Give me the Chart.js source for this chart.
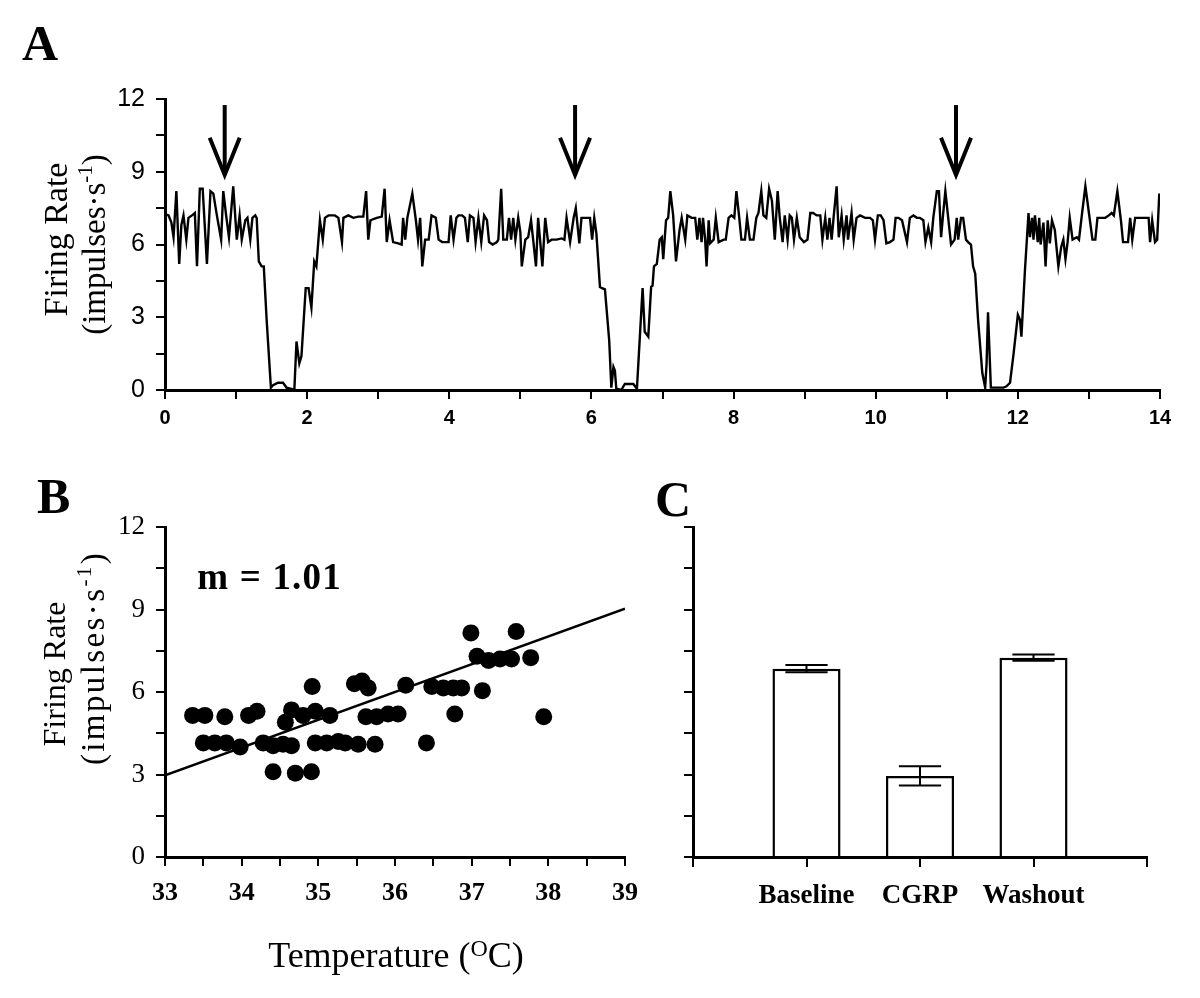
<!DOCTYPE html>
<html>
<head>
<meta charset="utf-8">
<title>Firing rate vs time, temperature and CGRP</title>
<script src="https://cdn.jsdelivr.net/npm/chart.js@4.4.1/dist/chart.umd.min.js"></script>
<style>
  html, body { margin: 0; padding: 0; background: #fff; }
  #page { position: relative; width: 1200px; height: 998px; overflow: hidden; background: #fff; }
  .panel-label { position: absolute; font: bold 50px "Liberation Serif", "Times New Roman", serif; line-height: 50px; color: #000; }
  canvas { position: absolute; display: block; }
</style>
</head>
<body>
<div id="page">
  <div class="panel-label" style="left:22px;top:18px">A</div>
  <div class="panel-label" style="left:37px;top:471px">B</div>
  <div class="panel-label" style="left:655px;top:474px">C</div>
  <canvas id="chartA" width="1200" height="390" style="left:0;top:60px"></canvas>
  <canvas id="chartB" width="660" height="538" style="left:0;top:460px"></canvas>
  <canvas id="chartC" width="560" height="538" style="left:640px;top:460px"></canvas>
</div>
<script>
    var SERIF = '"Liberation Serif", "Times New Roman", serif';
    var SANS = '"Liberation Sans", Arial, sans-serif';

    // panel A: firing rate trace (time in min, rate in impulses/s)
    var traceTime = [
        0.00, 0.05, 0.09, 0.12, 0.16, 0.20, 0.23, 0.26, 0.30, 0.33,
        0.38, 0.42, 0.45, 0.49, 0.53, 0.59, 0.64, 0.68, 0.73, 0.79,
        0.82, 0.86, 0.90, 0.96, 1.01, 1.05, 1.08, 1.13, 1.16, 1.20,
        1.23, 1.27, 1.29, 1.32, 1.36, 1.39, 1.43, 1.49, 1.52, 1.59,
        1.66, 1.71, 1.78, 1.82, 1.85, 1.89, 1.92, 1.98, 2.02, 2.06,
        2.10, 2.13, 2.18, 2.22, 2.25, 2.30, 2.35, 2.39, 2.44, 2.49,
        2.51, 2.58, 2.65, 2.72, 2.79, 2.83, 2.86, 2.89, 2.98, 3.05,
        3.09, 3.12, 3.16, 3.21, 3.28, 3.33, 3.35, 3.38, 3.41, 3.48,
        3.53, 3.56, 3.59, 3.62, 3.66, 3.71, 3.75, 3.81, 3.85, 3.90,
        3.96, 3.99, 4.02, 4.06, 4.10, 4.13, 4.18, 4.22, 4.26, 4.29,
        4.34, 4.37, 4.41, 4.45, 4.49, 4.53, 4.56, 4.61, 4.67, 4.69,
        4.73, 4.76, 4.81, 4.84, 4.87, 4.90, 4.93, 4.97, 5.00, 5.02,
        5.07, 5.11, 5.15, 5.18, 5.22, 5.25, 5.31, 5.35, 5.39, 5.44,
        5.51, 5.58, 5.62, 5.65, 5.70, 5.75, 5.78, 5.83, 5.86, 5.90,
        5.93, 5.98, 6.01, 6.04, 6.07, 6.12, 6.15, 6.19, 6.25, 6.28,
        6.31, 6.33, 6.35, 6.42, 6.47, 6.52, 6.59, 6.64, 6.72, 6.75,
        6.80, 6.84, 6.86, 6.88, 6.92, 6.96, 6.99, 7.01, 7.05, 7.08,
        7.11, 7.15, 7.19, 7.24, 7.27, 7.32, 7.35, 7.41, 7.46, 7.49,
        7.52, 7.55, 7.57, 7.60, 7.62, 7.65, 7.67, 7.72, 7.75, 7.79,
        7.86, 7.89, 7.93, 7.97, 8.01, 8.04, 8.08, 8.11, 8.16, 8.19,
        8.23, 8.28, 8.32, 8.35, 8.39, 8.42, 8.46, 8.50, 8.54, 8.58,
        8.62, 8.65, 8.69, 8.72, 8.76, 8.79, 8.82, 8.85, 8.89, 8.93,
        8.99, 9.04, 9.08, 9.12, 9.17, 9.22, 9.25, 9.29, 9.32, 9.35,
        9.38, 9.41, 9.45, 9.48, 9.52, 9.55, 9.59, 9.61, 9.66, 9.69,
        9.73, 9.78, 9.85, 9.92, 9.96, 9.99, 10.03, 10.07, 10.11, 10.15,
        10.20, 10.25, 10.28, 10.32, 10.37, 10.44, 10.48, 10.53, 10.58, 10.62,
        10.67, 10.70, 10.74, 10.78, 10.81, 10.86, 10.89, 10.92, 10.95, 10.98,
        11.02, 11.06, 11.11, 11.14, 11.16, 11.20, 11.23, 11.27, 11.30, 11.34,
        11.37, 11.40, 11.44, 11.50, 11.54, 11.56, 11.58, 11.62, 11.66, 11.73,
        11.80, 11.84, 11.89, 11.94, 12.00, 12.03, 12.05, 12.10, 12.15, 12.17,
        12.20, 12.22, 12.24, 12.28, 12.30, 12.32, 12.36, 12.39, 12.42, 12.45,
        12.48, 12.52, 12.57, 12.61, 12.64, 12.67, 12.70, 12.73, 12.77, 12.83,
        12.86, 12.90, 12.95, 13.00, 13.05, 13.09, 13.12, 13.18, 13.23, 13.28,
        13.32, 13.35, 13.40, 13.45, 13.48, 13.55, 13.58, 13.61, 13.65, 13.72,
        13.79, 13.84, 13.86, 13.89, 13.93, 13.96, 13.99
    ];
    var traceRate = [
        7.25, 7.2, 6.9, 6.3, 8.2, 5.2, 6.8, 7.2, 6.2, 7.1,
        7.2, 7.3, 5.1, 8.3, 8.3, 5.2, 8.2, 8.1, 7.2, 6.2,
        8.2, 7.2, 6.3, 8.4, 6.2, 7.2, 6.2, 7.0, 7.1, 6.2,
        7.1, 7.2, 7.1, 5.3, 5.1, 5.1, 2.9, 0.1, 0.2, 0.3,
        0.3, 0.1, 0.05, 0, 2.0, 1.1, 1.4, 4.2, 4.2, 3.4,
        5.3, 5.1, 7.0, 6.2, 7.1, 7.2, 7.2, 7.2, 7.1, 6.1,
        7.1, 7.2, 7.1, 7.15, 7.15, 8.2, 6.2, 7.0, 7.1, 7.15,
        8.3, 6.1, 7.0, 6.1, 6.05, 6.0, 7.1, 6.2, 7.1, 8.1,
        7.0, 6.2, 7.1, 5.1, 6.2, 6.2, 7.2, 7.1, 6.2, 6.1,
        6.1, 6.1, 7.2, 6.2, 7.1, 7.2, 7.2, 7.1, 6.1, 7.2,
        7.1, 6.1, 7.1, 6.1, 7.2, 7.0, 6.1, 6.0, 6.1, 6.2,
        8.3, 6.2, 6.2, 7.1, 6.2, 7.1, 6.2, 7.1, 6.5, 5.1,
        6.2, 6.3, 7.0, 6.2, 5.1, 7.1, 5.1, 7.1, 6.1, 6.2,
        6.2, 6.25, 6.2, 7.1, 6.1, 7.1, 7.5, 6.05, 7.1, 7.1,
        7.1, 7.1, 6.2, 7.1, 6.45, 4.25, 4.2, 4.15, 2.05, 0.1,
        0.95, 0.8, 0.05, 0, 0.25, 0.25, 0.25, 0.05, 4.2, 2.4,
        2.2, 4.25, 4.3, 5.1, 5.2, 6.2, 6.3, 5.4, 7.0, 7.1,
        8.2, 7.2, 5.3, 6.6, 7.1, 6.2, 7.2, 7.1, 7.1, 6.2,
        7.1, 6.1, 7.1, 6.2, 5.1, 7.0, 6.05, 6.2, 7.1, 6.1,
        6.2, 6.2, 7.1, 7.2, 7.1, 8.2, 7.1, 6.2, 6.2, 7.1,
        6.2, 6.2, 7.1, 7.3, 8.2, 7.2, 7.1, 8.3, 7.8, 6.2,
        8.2, 7.1, 6.1, 7.2, 6.2, 7.2, 7.1, 6.2, 7.1, 6.3,
        6.1, 6.2, 7.3, 7.3, 7.2, 7.2, 6.2, 7.1, 6.2, 7.1,
        6.2, 7.2, 8.4, 6.3, 7.2, 6.2, 7.2, 6.2, 7.3, 6.2,
        7.1, 7.2, 7.1, 7.1, 7.0, 6.2, 7.2, 7.2, 7.0, 6.05,
        6.1, 6.2, 7.1, 7.1, 7.0, 6.1, 7.1, 7.2, 7.1, 7.1,
        7.0, 6.1, 6.7, 6.1, 7.1, 8.2, 8.2, 6.3, 7.3, 8.2,
        7.1, 6.0, 6.2, 7.1, 6.2, 7.1, 7.1, 6.2, 6.1, 6.0,
        5.1, 4.8, 2.9, 0.7, 0.1, 1.1, 3.2, 0.1, 0.1, 0.1,
        0.1, 0.15, 0.3, 1.5, 3.1, 2.9, 2.2, 4.95, 7.3, 6.3,
        7.1, 6.2, 7.2, 6.1, 7.1, 6.0, 6.9, 5.1, 7.0, 6.05,
        7.0, 6.6, 5.1, 5.9, 6.2, 5.4, 6.1, 7.1, 6.2, 6.3,
        6.2, 7.2, 8.4, 7.3, 6.2, 6.2, 7.1, 7.1, 7.1, 7.2,
        7.3, 7.2, 8.2, 7.0, 6.1, 6.1, 7.1, 6.2, 7.1, 7.1,
        7.1, 7.1, 6.1, 7.0, 6.1, 6.2, 8.1
    ];
    // CGRP application times (arrows)
    var arrowTimes = [0.84, 5.77, 11.13];

    // panel B: firing rate vs temperature
    var tempC = [
        33.36, 33.52, 33.78, 34.09, 34.20, 34.57, 34.65, 34.80, 34.92, 34.96,
        35.15, 35.47, 35.57, 35.65, 35.62, 35.76, 35.91, 36.04, 36.14, 36.48,
        36.63, 36.76, 36.87, 36.78, 36.99, 37.14, 37.07, 37.22, 37.37, 37.52,
        37.58, 37.77, 37.94, 33.50, 33.65, 33.80, 33.98, 34.28, 34.41, 34.54,
        34.65, 34.96, 35.11, 35.26, 35.35, 35.52, 35.74, 36.41, 34.41, 34.70,
        34.91
    ];
    var rateAtTemp = [
        5.15, 5.15, 5.1, 5.15, 5.3, 4.9, 5.35, 5.15, 6.2, 5.3,
        5.15, 6.3, 6.4, 6.15, 5.1, 5.1, 5.2, 5.2, 6.25, 6.2,
        6.15, 6.15, 6.15, 5.2, 8.15, 6.05, 7.3, 7.15, 7.2, 7.2,
        8.2, 7.25, 5.1, 4.15, 4.15, 4.15, 4.0, 4.15, 4.05, 4.1,
        4.05, 4.15, 4.15, 4.2, 4.15, 4.1, 4.1, 4.15, 3.1, 3.05,
        3.1
    ];
    var fitTemp = [33, 39];
    var fitRate = [2.97, 9.03];
    var slopeText = 'm = 1.01';

    // panel C: mean firing rate per condition
    var conditions = ['Baseline', 'CGRP', 'Washout'];
    var meanRate = [6.85, 2.95, 7.25];
    var semRate = [0.13, 0.35, 0.115];

    var rateTicks = { min: 0, max: 12, step: 1.5, labelEvery: 3 };

    Chart.defaults.color = '#000';
    Chart.defaults.font.family = SERIF;

    function drawRichText(ctx, parts, x, y, vertical, spacing, align){
        ctx.save();
        ctx.translate(x, y);
        if(vertical){
            ctx.rotate(-Math.PI / 2);
        }
        ctx.fillStyle = '#000';
        ctx.textBaseline = 'alphabetic';
        ctx.textAlign = 'left';
        var widths = parts.map(function(p){
            ctx.font = p.font;
            var w = 0;
            for(var i = 0; i < p.text.length; i++){
                w += ctx.measureText(p.text[i]).width + spacing;
            }
            return spacing ? w : ctx.measureText(p.text).width;
        });
        var total = widths.reduce(function(a, b){ return a + b; }, 0);
        var cursor = align === 'left' ? 0 : -total / 2;
        parts.forEach(function(p, idx){
            ctx.font = p.font;
            var rise = p.rise || 0;
            if(spacing){
                var cx = cursor;
                for(var i = 0; i < p.text.length; i++){
                    ctx.fillText(p.text[i], cx, -rise);
                    cx += ctx.measureText(p.text[i]).width + spacing;
                }
            } else {
                ctx.fillText(p.text, cursor, -rise);
            }
            cursor += widths[idx];
        });
        ctx.restore();
    }

    function axisTitlePlugin(items){
        return {
            id: 'axisTitles',
            afterDraw: function(chart){
                var area = chart.chartArea;
                items.forEach(function(item){
                    var x, y;
                    if(item.vertical){
                        x = area.left - item.gap;
                        y = (area.top + area.bottom) / 2 + item.shift;
                    } else {
                        x = (area.left + area.right) / 2 + item.shift;
                        y = area.bottom + item.gap;
                    }
                    drawRichText(chart.ctx, item.parts, x, y, item.vertical, item.spacing || 0, 'center');
                });
            }
        };
    }

    function rateTitle(gap1, shift1, size1, gap2, shift2, spacing2){
        return [
            { vertical: true, gap: gap1, shift: shift1,
              parts: [{ text: 'Firing Rate', font: size1 + 'px ' + SERIF }] },
            { vertical: true, gap: gap2, shift: shift2, spacing: spacing2,
              parts: [
                  { text: '(impulses\u00b7s', font: '33px ' + SERIF },
                  { text: '-1', font: '21px ' + SERIF, rise: 13 },
                  { text: ')', font: '33px ' + SERIF }
              ] }
        ];
    }

    function blackGrid(){
        return { drawOnChartArea: false, color: '#000', lineWidth: 2, tickLength: 9 };
    }

    function rateAxis(width, font, showLabels){
        return {
            min: rateTicks.min,
            max: rateTicks.max,
            border: { color: '#000', width: 3 },
            grid: blackGrid(),
            ticks: {
                stepSize: rateTicks.step,
                autoSkip: false,
                padding: 11,
                color: '#000',
                font: font,
                callback: function(v){
                    return (showLabels && v % rateTicks.labelEvery === 0) ? String(v) : '';
                }
            },
            afterFit: function(scale){ scale.width = width; }
        };
    }

    var arrowPlugin = {
        id: 'stimArrows',
        afterDatasetsDraw: function(chart){
            var xs = chart.scales.x, ys = chart.scales.y, ctx = chart.ctx;
            var yTop = ys.getPixelForValue(11.75);
            var yHead = ys.getPixelForValue(10.4);
            var yTip = ys.getPixelForValue(8.87);
            ctx.save();
            ctx.strokeStyle = '#000';
            ctx.lineWidth = 4;
            ctx.lineJoin = 'miter';
            arrowTimes.forEach(function(t){
                var x = xs.getPixelForValue(t);
                ctx.beginPath();
                ctx.moveTo(x, yTop);
                ctx.lineTo(x, yTip - 2);
                ctx.stroke();
                ctx.beginPath();
                ctx.moveTo(x - 15, yHead);
                ctx.lineTo(x, yTip);
                ctx.lineTo(x + 15, yHead);
                ctx.stroke();
            });
            ctx.restore();
        }
    };

    var slopePlugin = {
        id: 'slopeLabel',
        afterDatasetsDraw: function(chart){
            var x = chart.scales.x.getPixelForValue(33.42);
            var y = chart.scales.y.getPixelForValue(9.75);
            drawRichText(chart.ctx, [{ text: slopeText, font: 'bold 37px ' + SERIF }], x, y, false, 1.2, 'left');
        }
    };

    var errorBarPlugin = {
        id: 'errorBars',
        afterDatasetsDraw: function(chart){
            var meta = chart.getDatasetMeta(0);
            var ys = chart.scales.y, ctx = chart.ctx;
            ctx.save();
            ctx.strokeStyle = '#000';
            ctx.lineWidth = 2;
            conditions.forEach(function(name, i){
                var bar = meta.data[i + 1];
                if(!bar) return;
                var props = bar.getProps(['x', 'width'], true);
                var top = ys.getPixelForValue(meanRate[i] + semRate[i]);
                var bottom = ys.getPixelForValue(meanRate[i] - semRate[i]);
                var half = props.width * 0.31;
                ctx.beginPath();
                ctx.moveTo(props.x, top);
                ctx.lineTo(props.x, bottom);
                ctx.moveTo(props.x - half, top);
                ctx.lineTo(props.x + half, top);
                ctx.moveTo(props.x - half, bottom);
                ctx.lineTo(props.x + half, bottom);
                ctx.stroke();
            });
            ctx.restore();
        }
    };

    function initCharts(){
        buildTraceChart();
        buildTempChart();
        buildBarChart();
    }

    function buildTraceChart(){
        new Chart(document.getElementById('chartA'), {
            type: 'line',
            data: {
                datasets: [{
                    data: traceTime.map(function(t, i){ return { x: t, y: traceRate[i] }; }),
                    borderColor: '#000',
                    borderWidth: 2.4,
                    pointRadius: 0,
                    tension: 0,
                    fill: false
                }]
            },
            options: {
                responsive: false,
                animation: false,
                devicePixelRatio: 1,
                layout: { padding: { top: 39, right: 40, bottom: 0, left: 0 } },
                plugins: { legend: { display: false }, tooltip: { enabled: false } },
                scales: {
                    x: {
                        type: 'linear',
                        min: 0,
                        max: 14,
                        border: { color: '#000', width: 3 },
                        grid: blackGrid(),
                        ticks: {
                            stepSize: 1,
                            autoSkip: false,
                            maxRotation: 0,
                            padding: 7,
                            color: '#000',
                            font: { family: SANS, size: 20, weight: 'bold' },
                            callback: function(v){ return v % 2 === 0 ? String(v) : ''; }
                        },
                        afterFit: function(scale){ scale.height = 60; }
                    },
                    y: rateAxis(165, { family: SANS, size: 25 }, true)
                }
            },
            plugins: [arrowPlugin, axisTitlePlugin(rateTitle(98, -5, 34, 60, 0, 0))]
        });
    }

    function buildTempChart(){
        new Chart(document.getElementById('chartB'), {
            type: 'scatter',
            data: {
                datasets: [{
                    data: tempC.map(function(t, i){ return { x: t, y: rateAtTemp[i] }; }),
                    backgroundColor: '#000',
                    borderWidth: 0,
                    pointRadius: 8.5
                }, {
                    data: fitTemp.map(function(t, i){ return { x: t, y: fitRate[i] }; }),
                    showLine: true,
                    borderColor: '#000',
                    borderWidth: 2.5,
                    pointRadius: 0
                }]
            },
            options: {
                responsive: false,
                animation: false,
                devicePixelRatio: 1,
                layout: { padding: { top: 67, right: 35, bottom: 0, left: 0 } },
                plugins: { legend: { display: false }, tooltip: { enabled: false } },
                scales: {
                    x: {
                        type: 'linear',
                        min: 33,
                        max: 39,
                        border: { color: '#000', width: 3 },
                        grid: blackGrid(),
                        ticks: {
                            stepSize: 0.5,
                            autoSkip: false,
                            maxRotation: 0,
                            padding: 12,
                            color: '#000',
                            font: { family: SERIF, size: 26, weight: 'bold' },
                            callback: function(v){ return Number.isInteger(v) ? String(v) : ''; }
                        },
                        afterFit: function(scale){ scale.height = 141; }
                    },
                    y: rateAxis(165, { family: SERIF, size: 27 }, true)
                }
            },
            plugins: [slopePlugin, axisTitlePlugin(rateTitle(100, -18, 32, 61, -34, 2.4).concat([{
                vertical: false, gap: 110, shift: 1,
                parts: [
                    { text: 'Temperature (', font: '36px ' + SERIF },
                    { text: 'O', font: '24px ' + SERIF, rise: 11 },
                    { text: 'C)', font: '36px ' + SERIF }
                ]
            }]))]
        });
    }

    function buildBarChart(){
        new Chart(document.getElementById('chartC'), {
            type: 'bar',
            data: {
                labels: [''].concat(conditions, ['']),
                datasets: [{
                    data: [null].concat(meanRate, [null]),
                    backgroundColor: '#fff',
                    borderColor: '#000',
                    borderWidth: 2.5,
                    barPercentage: 0.6,
                    categoryPercentage: 1
                }]
            },
            options: {
                responsive: false,
                animation: false,
                devicePixelRatio: 1,
                layout: { padding: { top: 67, right: 53, bottom: 0, left: 0 } },
                plugins: { legend: { display: false }, tooltip: { enabled: false } },
                scales: {
                    x: {
                        type: 'category',
                        offset: false,
                        border: { color: '#000', width: 3 },
                        grid: { drawOnChartArea: false, color: '#000', lineWidth: 2, tickLength: 10, offset: false },
                        ticks: {
                            autoSkip: false,
                            maxRotation: 0,
                            padding: 13,
                            color: '#000',
                            font: { family: SERIF, size: 27, weight: 'bold' }
                        },
                        afterFit: function(scale){ scale.height = 141; }
                    },
                    y: rateAxis(53, { family: SERIF, size: 27 }, false)
                }
            },
            plugins: [errorBarPlugin]
        });
    }

    initCharts();
</script>
</body>
</html>
